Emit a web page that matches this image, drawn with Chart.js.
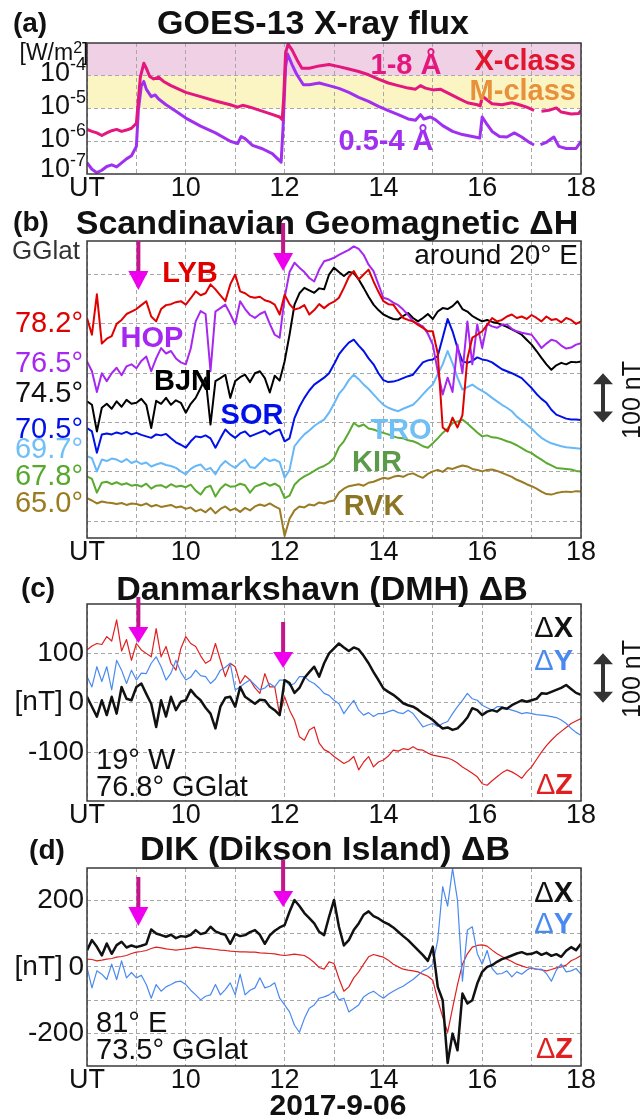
<!DOCTYPE html>
<html>
<head>
<meta charset="utf-8">
<title>GOES-13 X-ray flux and geomagnetic disturbances, 2017-9-06</title>
<script src="https://cdn.jsdelivr.net/npm/chart.js@4.4.1/dist/chart.umd.min.js"></script>
<style>
  body { margin: 0; background: #fff; }
  #page { position: relative; width: 643px; height: 1119px; overflow: hidden;
          font-family: "Liberation Sans", Arial, Helvetica, sans-serif; color: #111; }
  canvas { position: absolute; left: 0; }
  .t { position: absolute; white-space: nowrap; line-height: 1; }
  .c { transform: translate(-50%, -50%); }
  .r { transform: translate(-100%, -50%); }
  .l { transform: translate(0, -50%); }
  .ttl { font-size: 34px; font-weight: bold; }
  .pn { font-size: 28px; font-weight: bold; }
  .st { font-size: 29px; font-weight: bold; }
  .lat { font-size: 29px; }
  .nt { font-size: 25px; transform: translate(-50%, -50%) rotate(-90deg); }
  .d { font-weight: normal; }
  .sup { font-size: 0.7em; position: relative; top: -0.42em; }
  .fx { font-size: 18px; position: relative; top: -11px; }
</style>
</head>
<body>
<div id="page">
  <canvas id="cA" width="643" height="210" style="top:0"></canvas>
  <canvas id="cB" width="643" height="365" style="top:210px"></canvas>
  <canvas id="cC" width="643" height="255" style="top:575px"></canvas>
  <canvas id="cD" width="643" height="270" style="top:830px"></canvas>

  <!-- (a) GOES -->
  <div class="t c pn" style="left:30px;top:23px">(a)</div>
  <div class="t c ttl" style="left:313px;top:22px">GOES-13 X-ray flux</div>
  <div class="t c" style="left:54px;top:52px;font-size:23px">[W/m<span class="sup">2</span>]</div>
  <div class="t r st" style="left:576px;top:60px;color:#e2142e">X-class</div>
  <div class="t r st" style="left:576px;top:90px;color:#e8913a">M-class</div>
  <div class="t c st" style="left:406px;top:64px;color:#e3177d">1-8 Å</div>
  <div class="t c st" style="left:386px;top:140px;color:#a030f0">0.5-4 Å</div>

  <!-- (b) Scandinavian chain -->
  <div class="t c pn" style="left:31px;top:222px">(b)</div>
  <div class="t c ttl" style="left:327px;top:222px">Scandinavian Geomagnetic ΔH</div>
  <div class="t c" style="left:46px;top:250px;font-size:26px;color:#333">GGlat</div>
  <div class="t r" style="left:578px;top:255px;font-size:28px">around 20° E</div>
  <div class="t c st" style="left:190px;top:272px;color:#e00000">LYB</div>
  <div class="t c st" style="left:152px;top:337px;color:#a628f0">HOP</div>
  <div class="t c st" style="left:183px;top:380px;color:#000">BJN</div>
  <div class="t c st" style="left:252px;top:414px;color:#0010e8">SOR</div>
  <div class="t c st" style="left:401px;top:429px;color:#70bff5">TRO</div>
  <div class="t c st" style="left:377px;top:461px;color:#5a9a48">KIR</div>
  <div class="t c st" style="left:374px;top:505px;color:#8c7624">RVK</div>
  <div class="t r lat" style="left:83px;top:322px;color:#e00000">78.2°</div>
  <div class="t r lat" style="left:83px;top:362px;color:#a628f0">76.5°</div>
  <div class="t r lat" style="left:83px;top:392px;color:#111">74.5°</div>
  <div class="t r lat" style="left:83px;top:428px;color:#0010e8">70.5°</div>
  <div class="t r lat" style="left:83px;top:448px;color:#70bff5">69.7°</div>
  <div class="t r lat" style="left:83px;top:475px;color:#58a82e">67.8°</div>
  <div class="t r lat" style="left:83px;top:502px;color:#9a7b1e">65.0°</div>
  <div class="t nt" style="left:631px;top:400px">100 nT</div>

  <!-- (c) DMH -->
  <div class="t c pn" style="left:38px;top:588px">(c)</div>
  <div class="t c ttl" style="left:322px;top:588px">Danmarkshavn (DMH) ΔB</div>
  <div class="t r st" style="left:573px;top:627px;color:#111"><span class="d">Δ</span>X</div>
  <div class="t r st" style="left:573px;top:660px;color:#4a8af0"><span class="d">Δ</span>Y</div>
  <div class="t r st" style="left:573px;top:784px;color:#e02020"><span class="d">Δ</span>Z</div>
  <div class="t l lat" style="left:96px;top:759px">19° W</div>
  <div class="t l lat" style="left:96px;top:786px">76.8° GGlat</div>
  <div class="t nt" style="left:631px;top:679px">100 nT</div>

  <!-- (d) DIK -->
  <div class="t c pn" style="left:47px;top:850px">(d)</div>
  <div class="t c ttl" style="left:325px;top:848px">DIK (Dikson Island) ΔB</div>
  <div class="t r st" style="left:573px;top:892px;color:#111"><span class="d">Δ</span>X</div>
  <div class="t r st" style="left:573px;top:923px;color:#4a8af0"><span class="d">Δ</span>Y</div>
  <div class="t r st" style="left:573px;top:1048px;color:#e02020"><span class="d">Δ</span>Z</div>
  <div class="t l lat" style="left:96px;top:1022px">81° E</div>
  <div class="t l lat" style="left:96px;top:1049px">73.5° GGlat</div>
  <div class="t c" style="left:338px;top:1105px;font-size:30px;font-weight:bold">2017-9-06</div>
</div>

<script>
// ---- axis ticks / labels ----
const hourTicks = [8, 9, 10, 11, 12, 13, 14, 15, 16, 17, 18];
const hourLabels = ['UT', '', '10', '', '12', '', '14', '', '16', '', '18'];
const fluxGrid = [1e-6, 1e-5, 1e-4];
const fluxLabelVals = [1e-4, 1e-5, 1e-6, 1e-7];
const fluxLabelExp = ['-4', '-5', '-6', '-7'];
const scanTicks = [0, 100, 200, 300, 400, 500];
const dmhTicks = [-100, 0, 100];
const dmhLabels = ['-100', '[nT]\u20090', '100'];
const dikTicks = [-200, -100, 0, 100, 200];
const dikLabels = ['-200', '', '[nT]\u20090', '', '200'];

// ---- (a) GOES-13 X-ray flux [W/m2] ----
const longT = [8.0,8.1,8.2,8.3,8.4,8.5,8.6,8.7,8.8,8.9,9.0,9.04,9.08,9.15,9.2,9.27,9.35,9.45,9.55,9.7,
  10.0,10.3,10.6,10.9,11.05,11.15,11.3,11.5,11.7,11.9,11.95,11.98,12.02,12.07,12.15,12.25,12.35,12.5,12.7,12.9,
  13.1,13.3,13.5,13.7,13.9,14.1,14.3,14.5,14.65,14.75,14.85,15.0,15.15,15.3,15.5,15.7,15.9,15.96,
  16.0,16.05,16.2,16.4,16.6,16.75,16.9,17.05,17.1,17.2,17.35,17.5,17.6,17.8,17.95,18.0];
const long18 = [2.3e-6,2.0e-6,1.8e-6,1.5e-6,1.8e-6,2.1e-6,2.3e-6,2.0e-6,2.2e-6,2.5e-6,3.5e-6,1.9e-5,9.1e-5,2.4e-4,1.7e-4,9.5e-5,8e-5,9e-5,6.7e-5,5e-5,
  3.1e-5,2.3e-5,1.7e-5,1.3e-5,1.1e-5,1.25e-5,1.1e-5,8.8e-6,7e-6,5.5e-6,4.6e-6,1.9e-5,4.9e-4,9.3e-4,6.2e-4,3.1e-4,1.7e-4,1.7e-4,2e-4,2.2e-4,
  1.9e-4,1.6e-4,1.35e-4,1.07e-4,7.9e-5,6e-5,5e-5,4.2e-5,3.9e-5,5e-5,4.2e-5,3.7e-5,3.9e-5,3e-5,2.1e-5,1.5e-5,1.3e-5,1.2e-5,
  2.3e-5,2.1e-5,1.4e-5,1.3e-5,1.5e-5,1.3e-5,1.1e-5,8.8e-6,null,8.2e-6,8.8e-6,1.04e-5,7.8e-6,6.8e-6,7e-6,8.8e-6];
const shortT = [8.0,8.1,8.2,8.3,8.4,8.5,8.6,8.7,8.8,8.9,9.0,9.04,9.1,9.15,9.2,9.3,9.38,9.45,9.6,9.8,
  10.0,10.3,10.6,10.9,11.05,11.12,11.2,11.35,11.55,11.75,11.93,11.97,12.02,12.06,12.15,12.25,12.38,12.5,12.7,12.9,
  13.1,13.3,13.5,13.7,13.9,14.1,14.3,14.5,14.65,14.75,14.82,14.95,15.05,15.2,15.4,15.6,15.8,15.95,
  16.0,16.08,16.2,16.35,16.5,16.65,16.8,16.95,17.05,17.1,17.18,17.3,17.45,17.55,17.7,17.9,18.0];
const short054 = [2.2e-7,1.4e-7,1.1e-7,1.3e-7,1.7e-7,1.9e-7,1.65e-7,2.2e-7,2.9e-7,3.6e-7,7e-7,9e-6,5e-5,6.7e-5,3.9e-5,2.3e-5,2.6e-5,1.95e-5,1.3e-5,8.2e-6,
  5.1e-6,2.9e-6,1.8e-6,1e-6,8.5e-7,1.4e-6,1.2e-6,7.5e-7,5.9e-7,4.2e-7,2.3e-7,2.9e-6,1.9e-4,4.6e-4,2.2e-4,1.07e-4,5.3e-5,5.3e-5,6e-5,5e-5,
  4.1e-5,3.1e-5,2.2e-5,1.65e-5,1.16e-5,8.6e-6,6.5e-6,4.8e-6,4.4e-6,6.5e-6,4.8e-6,5.5e-6,4.6e-6,3e-6,2e-6,1.6e-6,1.4e-6,1.25e-6,
  5.5e-6,3.6e-6,2e-6,1.4e-6,1.35e-6,1.8e-6,1.35e-6,9.3e-7,7.7e-7,null,7.9e-7,9.3e-7,1.35e-6,7e-7,6e-7,6e-7,1e-6];

// ---- magnetometer time base: 08:00 - 18:00 UT, 6 min steps ----
const ut = Array.from({ length: 101 }, (_, i) => (80 + i) / 10);

// ---- (b) Scandinavian dH, plotted with station offsets (nT above lowest grid line) ----
const lyb = [412,378,460,360,370,375,400,408,420,425, 430,438,446,415,405,430,438,440,444,446,
  439,452,466,458,462,480,470,458,446,480, 500,466,462,455,453,455,448,445,439,419,
  459,440,429,432,438,419,428,440,432,440, 445,453,473,495,507,490,500,510,486,465,
  446,440,439,425,412,408,405,398,392,385, 385,340,190,182,210,190,215,330,372,378,
  385,398,412,405,408,415,419,412,415,410, 418,412,405,415,408,410,403,412,408,400, 405];
const hop = [324,304,262,300,284,300,311,296,314,318, 310,325,334,304,330,351,340,345,330,322,
  318,350,405,426,420,304,425,432,439,420, 399,446,430,418,412,420,425,400,378,372,
  453,505,524,514,505,493,486,510,527,530, 534,540,545,550,557,552,540,520,507,480,
  453,450,443,438,429,418,405,400,395,380, 358,304,257,291,262,358,300,405,318,399,
  351,400,395,392,398,399,390,385,382,380, 378,365,351,360,368,365,356,350,352,358, 361];
const bjn = [243,236,182,230,238,228,243,232,246,238, 240,248,236,189,244,238,250,236,245,240,
  220,238,250,270,291,196,284,290,297,250, 284,292,297,282,300,304,290,261,295,285,
  324,378,439,462,473,468,463,472,470,500, 514,505,497,505,503,490,473,455,439,428,
  419,414,410,409,416,422,412,405,412,420, 410,425,432,430,436,446,430,425,416,410,
  405,408,404,402,398,394,389,384,378,368, 358,345,331,318,307,316,321,318,323,322, 324];
const sor = [189,182,139,176,178,176,180,177,181,176, 179,175,172,169,176,174,177,168,160,155,
  149,162,172,170,174,168,149,168,186,176, 169,178,182,172,176,180,184,176,182,186,
  162,168,209,232,250,265,277,284,291,300, 318,338,351,362,368,356,345,330,318,300,
  286,282,283,286,290,294,297,310,322,326, 328,335,372,410,385,351,324,321,325,332,
  328,326,322,315,308,304,300,295,290,280, 270,258,248,240,226,216,212,208,206,206, 205];
const tro = [132,128,101,125,122,127,125,120,126,118, 122,116,119,111,115,118,114,112,108,101,
  95,106,112,115,104,108,95,112,122,114, 108,118,125,110,108,118,128,122,125,120,
  88,104,152,165,176,184,193,200,206,220, 238,258,270,286,297,288,277,268,257,246,
  236,230,226,223,228,232,236,246,257,268, 277,298,318,345,320,291,267,272,277,270,
  264,258,250,243,236,230,223,212,204,196, 188,178,169,163,158,155,152,150,149,148, 147];
const kir = [91,86,58,78,80,75,79,74,77,72, 74,70,76,66,72,73,68,75,70,72,
  69,74,62,54,68,72,50,66,75,70, 71,76,73,58,70,74,78,72,76,70,
  47,52,74,84,91,96,102,108,112,118, 128,150,162,180,199,192,196,188,186,182,
  179,176,172,169,168,164,162,158,152,149, 158,168,179,188,199,202,206,198,189,180,
  172,174,170,169,166,162,159,154,148,142, 138,131,125,118,113,108,107,106,105,102, 101];
const rvk = [47,42,36,40,38,37,35,37,33,36, 35,32,36,30,33,29,31,33,28,30,
  25,28,20,24,18,27,16,25,30,22, 26,19,27,22,30,34,31,36,30,25,
  -30,5,22,30,28,34,32,38,36,40, 42,58,66,71,73,75,72,78,80,84,
  88,86,90,92,90,95,97,92,88,96, 101,104,100,108,106,110,113,111,106,104,
  101,104,105,102,98,94,90,84,80,75, 71,66,60,55,54,57,59,60,59,61, 60];

// ---- (c) Danmarkshavn dX, dY, dZ [nT] ----
const dmhX = [12,-8,-28,5,-25,12,-22,32,8,5, 32,39,18,-2,-49,5,-28,12,-15,2,
  5,26,14,5,-10,-22,-52,-8,10,12, -8,32,12,5,-2,6,5,-8,-15,-25,
  46,40,20,30,50,62,73,53,80,100, 110,120,112,105,112,108,95,80,62,46,
  29,22,16,8,-1,-5,-8,-14,-22,-28, -35,-44,-52,-50,-55,-52,-42,-30,-11,-15,
  -25,-18,-15,-18,-10,-12,-5,0,5,2, 5,8,19,18,22,26,30,36,28,20, 16];
const dmhY = [53,32,73,43,73,26,86,66,39,66, 46,60,59,80,93,73,46,60,86,62,
  46,52,66,55,53,39,48,66,72,80, 26,32,40,46,36,26,30,39,32,46,
  46,35,39,53,53,44,39,30,19,15, 5,-2,-22,-8,5,-15,-25,-20,-28,-22,
  -22,-18,-15,-20,-22,-15,-22,-35,-49,-45, -42,-48,-42,-38,-22,-8,5,19,8,5,
  -5,-10,-15,-8,-8,-12,-15,-18,-22,-20, -22,-24,-25,-26,-28,-30,-35,-42,-52,-60, -66];
const dmhZ = [107,115,120,118,134,125,168,105,128,86, 120,107,100,93,150,93,114,80,66,110,
  134,120,114,95,80,86,120,86,53,80, 73,39,55,46,30,19,59,32,32,-25,
  12,-15,-35,-69,-76,-55,-49,-82,-95,-100, -109,-116,-123,-118,-109,-136,-120,-109,-130,-120,
  -116,-108,-96,-98,-93,-95,-89,-95,-96,-102, -106,-108,-110,-112,-116,-122,-130,-136,-143,-150,
  -164,-167,-158,-150,-142,-136,-140,-146,-153,-140, -130,-115,-100,-87,-76,-66,-58,-50,-42,-37, -32];

// ---- (d) Dikson Island dX, dY, dZ [nT] ----
const dikX = [49,80,60,34,70,39,65,75,58,64, 59,63,68,112,100,95,90,96,86,92,
  90,96,110,98,102,120,106,100,96,69, 98,92,95,104,110,96,69,94,108,118,
  125,165,200,182,161,146,130,105,95,150, 200,120,64,80,110,130,156,166,152,145,
  135,128,118,105,92,80,65,50,35,18, 60,-60,-100,-288,-200,-250,-80,-110,-100,-50,
  -15,0,5,15,23,28,34,40,44,38, 39,45,36,42,33,38,30,48,59,50, 69];
const dikY = [-2,-63,-12,-22,-38,8,-38,18,-33,-17, -33,-25,-53,-94,-53,-73,-60,-53,-45,-43,
  -53,-70,-84,-99,-88,-84,-53,-84,-68,-48, -84,-22,-84,-70,-63,-33,-63,-58,-48,-94,
  -114,-135,-175,-196,-155,-124,-114,-94,-90,-84, -73,-99,-94,-135,-125,-114,-90,-80,-73,-84,
  -94,-82,-73,-65,-58,-48,-38,-25,-12,-5, 8,80,240,182,294,200,-43,110,120,40,
  8,49,-5,-22,-20,-12,-30,-15,-22,-10, -2,-8,-7,-20,-43,-10,8,-15,-12,-5, -22];
const dikZ = [23,22,18,20,23,25,29,31,34,40, 44,46,49,55,59,57,54,52,50,52,
  54,56,59,57,55,54,52,50,49,47, 46,45,45,44,44,42,41,40,39,36,
  34,36,38,36,34,25,13,-2,-7,15, 10,-35,-73,-60,-33,-15,8,30,37,33,
  29,20,8,0,-7,-10,-12,-15,-22,-28, -40,-100,-150,-196,-124,-53,8,39,59,64,
  66,62,50,39,31,23,16,8,3,-2, -5,-7,-9,-12,-8,-3,0,5,18,25, 34];

// ---------------------------------------------------------------
const FONT = '"Liberation Sans", Arial, Helvetica, sans-serif';
const GRID = '#a8a8a8';
const pts = (t, v) => t.map((x, i) => ({ x, y: v[i] }));
const line = (label, t, v, color, w) => ({
  label, data: pts(t, v), borderColor: color, borderWidth: w,
  pointRadius: 0, tension: 0, fill: false, spanGaps: false, borderJoinStyle: 'round'
});

function drawArrow(ctx, x, yTop, yHead, yTip) {
  ctx.fillStyle = '#c4168c';
  ctx.fillRect(x - 2, yTop, 4, yHead - yTop + 1);
  ctx.fillStyle = '#ee00ee';
  ctx.beginPath();
  ctx.moveTo(x - 10, yHead); ctx.lineTo(x + 10, yHead); ctx.lineTo(x, yTip);
  ctx.closePath(); ctx.fill();
}

function drawBar(ctx, x, yA, yB) {
  ctx.fillStyle = '#333';
  ctx.fillRect(x - 2, yA + 8, 4, yB - yA - 16);
  ctx.beginPath();
  ctx.moveTo(x, yA); ctx.lineTo(x - 10, yA + 11); ctx.lineTo(x + 10, yA + 11); ctx.closePath();
  ctx.moveTo(x, yB); ctx.lineTo(x - 10, yB - 11); ctx.lineTo(x + 10, yB - 11); ctx.closePath();
  ctx.fill();
}

function deco(cfg) {
  return {
    id: 'deco',
    beforeDraw(chart) {
      if (!cfg.bands) return;
      const { ctx, chartArea: a, scales: { y } } = chart;
      cfg.bands.forEach(b => {
        const y1 = y.getPixelForValue(b.to), y2 = y.getPixelForValue(b.from);
        ctx.fillStyle = b.color;
        ctx.fillRect(a.left, y1, a.right - a.left, y2 - y1);
      });
    },
    afterDraw(chart) {
      const { ctx, chartArea: a, scales: { x, y } } = chart;
      ctx.save();
      ctx.setLineDash([]);
      ctx.strokeStyle = '#3a3a3a';
      ctx.lineWidth = 1.5;
      ctx.strokeRect(a.left, a.top, a.right - a.left, a.bottom - a.top);
      (cfg.arrows || []).forEach(ar => {
        const o = cfg.canvasTop;
        drawArrow(ctx, x.getPixelForValue(ar[0]), ar[1] - o, ar[2] - o, ar[3] - o);
      });
      if (cfg.bar) drawBar(ctx, 603, y.getPixelForValue(cfg.bar[1]), y.getPixelForValue(cfg.bar[0]));
      ctx.restore();
    }
  };
}

function panel(id, cfg) {
  const cv = document.getElementById(id);
  const padTop = cfg.plotTop - cfg.canvasTop;
  const xH = cv.height - (cfg.plotBottom - cfg.canvasTop);
  const yAxis = Object.assign({
    position: 'left',
    afterFit: s => { s.width = 87; },
    grid: { color: GRID, lineWidth: 1, drawTicks: false },
    border: { display: false, dash: [4, 3] }
  }, cfg.y);
  return new Chart(cv, {
    type: 'line',
    data: { datasets: cfg.datasets },
    options: {
      responsive: false, animation: false, devicePixelRatio: 1, events: [],
      layout: { padding: { left: 0, right: 62, top: padTop, bottom: 0 } },
      plugins: { legend: { display: false }, tooltip: { enabled: false }, title: { display: false } },
      scales: {
        x: {
          type: 'linear', min: 8, max: 18,
          afterFit: s => { s.height = xH; },
          afterBuildTicks: s => { s.ticks = hourTicks.map(v => ({ value: v })); },
          ticks: {
            autoSkip: false, maxRotation: 0, padding: 1, color: '#111',
            font: { family: FONT, size: 27, lineHeight: 1 },
            callback: (v, i) => hourLabels[i]
          },
          grid: { color: GRID, lineWidth: 1, drawTicks: false },
          border: { display: false, dash: [4, 3] }
        },
        y: yAxis
      }
    },
    plugins: [deco(cfg)]
  });
}

const yTickFont = { family: FONT, size: 28, lineHeight: 1 };

// (a)
const chartA = panel('cA', {
  canvasTop: 0, plotTop: 43, plotBottom: 174,
  bands: [
    { from: 1e-4, to: 1e-3, color: '#efd0e4' },
    { from: 1e-5, to: 1e-4, color: '#fbf5c4' }
  ],
  y: {
    type: 'logarithmic', min: 1e-7, max: 1e-3,
    afterBuildTicks: s => { s.ticks = fluxGrid.map(v => ({ value: v })); },
    ticks: { display: false }
  },
  datasets: [
    line('1-8 Å', longT, long18, '#e3177d', 3),
    line('0.5-4 Å', shortT, short054, '#a030f0', 3)
  ]
});

// (b)
panel('cB', {
  canvasTop: 210, plotTop: 241, plotBottom: 538,
  arrows: [[9.04, 241, 271, 290], [11.97, 223, 253, 271]],
  bar: [200, 300],
  y: {
    type: 'linear', min: -34, max: 568,
    afterBuildTicks: s => { s.ticks = scanTicks.map(v => ({ value: v })); },
    ticks: { display: false }
  },
  datasets: [
    line('LYB', ut, lyb, '#e00000', 2),
    line('HOP', ut, hop, '#a628f0', 2),
    line('BJN', ut, bjn, '#000000', 2),
    line('SOR', ut, sor, '#0010e8', 2),
    line('TRO', ut, tro, '#66b8f8', 2),
    line('KIR', ut, kir, '#5aaa30', 2),
    line('RVK', ut, rvk, '#9a7a22', 2)
  ]
});

// (c)
panel('cC', {
  canvasTop: 575, plotTop: 604, plotBottom: 801,
  arrows: [[9.04, 597, 627, 643], [11.97, 622, 652, 668]],
  bar: [0, 100],
  y: {
    type: 'linear', min: -199, max: 200,
    afterBuildTicks: s => { s.ticks = dmhTicks.map(v => ({ value: v })); },
    ticks: { padding: 3, color: '#111', font: yTickFont, callback: (v, i) => dmhLabels[i] }
  },
  datasets: [
    line('ΔX', ut, dmhX, '#111111', 2.5),
    line('ΔY', ut, dmhY, '#4a8af0', 1.2),
    line('ΔZ', ut, dmhZ, '#e02020', 1.2)
  ]
});

// (d)
panel('cD', {
  canvasTop: 830, plotTop: 868, plotBottom: 1066,
  arrows: [[9.04, 877, 907, 926], [11.97, 860, 891, 907]],
  y: {
    type: 'linear', min: -297, max: 296,
    afterBuildTicks: s => { s.ticks = dikTicks.map(v => ({ value: v })); },
    ticks: { padding: 3, color: '#111', font: yTickFont, callback: (v, i) => dikLabels[i] }
  },
  datasets: [
    line('ΔX', ut, dikX, '#111111', 2.5),
    line('ΔY', ut, dikY, '#4a8af0', 1.2),
    line('ΔZ', ut, dikZ, '#e02020', 1.2)
  ]
});

// flux tick labels with superscript exponents, placed on the log scale
const page = document.getElementById('page');
const ya = chartA.scales.y;
const fluxLift = [3.5, 3.5, 3.5, 6];
fluxLabelVals.forEach((v, i) => {
  const d = document.createElement('div');
  d.className = 't r';
  d.style.left = '86px';
  d.style.top = (ya.getPixelForValue(v) - fluxLift[i]) + 'px';
  d.style.fontSize = '27px';
  d.innerHTML = '10<span class="fx">' + fluxLabelExp[i] + '</span>';
  page.appendChild(d);
});
</script>
</body>
</html>
